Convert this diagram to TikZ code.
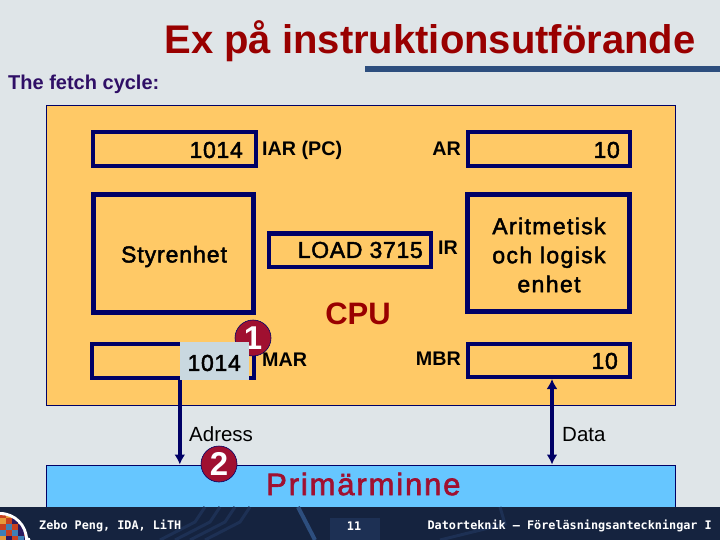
\documentclass[tikz,border=0pt]{standalone}
\usepackage{fontspec}
\setmainfont{Liberation Sans}
\newfontfamily\footfont{DejaVu Sans Mono}
\usetikzlibrary{arrows.meta}
\definecolor{slidebg}{HTML}{DFE5E8}
\definecolor{cpuorange}{HTML}{FFC966}
\definecolor{memblue}{HTML}{66C6FF}
\definecolor{navy}{HTML}{000066}
\definecolor{titlered}{HTML}{990000}
\definecolor{badgered}{HTML}{A01030}
\definecolor{footdark}{HTML}{15233F}
\definecolor{footline}{HTML}{1D3054}
\definecolor{barblue}{HTML}{2D4E7E}
\definecolor{lowgrey}{HTML}{C9D8E0}
\definecolor{fetchviolet}{HTML}{2F0F66}
\definecolor{logoa}{HTML}{C8401F}
\definecolor{logob}{HTML}{3F7FB5}
\definecolor{logoc}{HTML}{2A1A5E}
\definecolor{logod}{HTML}{E59A3A}
\tikzset{
    regbox/.style={draw=navy,line width=4pt,fill=cpuorange,inner sep=0pt},
    unitbox/.style={draw=navy,line width=5pt,fill=cpuorange,inner sep=0pt},
    regname/.style={font=\fontsize{19.7}{20}\selectfont\bfseries,text=black,inner sep=0pt},
    regval/.style={font=\fontsize{23}{23}\selectfont\addfontfeature{LetterSpace=3,FakeBold=2},text=black,inner sep=0pt},
    badge/.style={circle,draw=navy,line width=0.6pt,fill=badgered,text=white,inner sep=0pt,minimum size=36pt,font=\fontsize{33}{33}\selectfont\bfseries},
    bus/.style={draw=navy,line width=4pt},
    foottext/.style={font=\fontsize{11.8}{12}\footfont\bfseries,text=white,inner sep=0pt},
    bustip/.style={-{Latex[length=10pt,width=11pt]}}
}
\begin{document}
\begin{tikzpicture}[x=1pt,y=-1pt]
    \useasboundingbox (0,0) rectangle (720,540);
    \fill[slidebg] (0,0) rectangle (720,540);

    % title
    \node[font=\fontsize{40}{40}\selectfont\bfseries,text=titlered,inner sep=0pt] (title) at (430,41) {Ex på instruktionsutförande};
    \fill[barblue] (365,66) rectangle (720,72);
    \node[font=\fontsize{20}{20}\selectfont\bfseries,text=fetchviolet,anchor=west,inner sep=0pt] (fetch) at (8,84) {The fetch cycle:};

    % big blocks
    \node[draw=navy,line width=1pt,fill=cpuorange,minimum width=629pt,minimum height=300pt,inner sep=0pt] (cpu) at (361,255.5) {};
    \node[draw=navy,line width=1pt,fill=memblue,minimum width=629pt,minimum height=60pt,inner sep=0pt] (mem) at (361,495) {};

    % footer
    \fill[footdark] (0,507) rectangle (720,540);
    \foreach \x in {205,220,235,250}{
        \draw[footline,line width=3pt] (\x-45,540) -- (\x-10,522) -- (\x,507);
    }
    \fill[footline] (330,518) rectangle (380,540);
    \draw[barblue,line width=4pt] (298,507) -- (315,540);
    \draw[footline,line width=3pt] (500,507) -- (505,524) -- (440,540);

    % logo
    \begin{scope}
        \clip (0,507) rectangle (40,540);
        \fill[white] (0,540) circle (28pt);
        \foreach \a in {0,15,...,90}{
            \fill[white] (\a:28) ++(0,540) circle (2.5pt);
        }
        \clip (0,540) circle (25pt);
        \foreach \x/\y/\c in {0/512/logoa,6/512/logod,12/512/logoc,0/518/logod,6/518/logoa,12/518/logoc,18/518/logod,
                0/524/logoa,6/524/logob,12/524/logoa,18/524/logoc,24/524/logod,
                0/530/logob,6/530/logoa,12/530/logob,18/530/logoc,24/530/logoa,
                0/536/logod,6/536/logoc,12/536/logoa,18/536/logob,24/536/logoc}{
            \fill[\c] (\x,\y) rectangle ++(6,6);
        }
    \end{scope}

    % registers
    \node[regbox,minimum width=163pt,minimum height=34pt] (iar) at (174,149) {};
    \node[regbox,minimum width=162pt,minimum height=34pt] (ar) at (549,149) {};
    \node[regbox,minimum width=162pt,minimum height=33pt] (ir) at (350,250) {};
    \node[regbox,minimum width=162pt,minimum height=34pt] (mar) at (173,361) {};
    \node[regbox,minimum width=162pt,minimum height=33pt] (mbr) at (549,360.5) {};
    \node[unitbox,minimum width=160pt,minimum height=117pt] (ctrl) at (173,253.5) {};
    \node[unitbox,minimum width=162pt,minimum height=117pt] (alu) at (548.5,253) {};

    \node[badge] (one) at (253,338) {1};
    \node[fill=lowgrey,minimum width=69pt,minimum height=38pt,inner sep=0pt] (marlow) at (214.5,361) {};

    % buses
    \draw[bus,bustip] (marlow.south west) -- (marlow.south west |- mem.north);
    \draw[bus,{Latex[length=10pt,width=11pt]}-{Latex[length=10pt,width=11pt]}] ([xshift=3pt]mbr.south) -- ([xshift=3pt]mbr.south |- mem.north);

    % texts
    \node[regval,anchor=east] (iarval) at (243,150) {1014};
    \node[regval,anchor=east] (arval) at (620,150) {10};
    \node[regval,anchor=east] (irval) at (423,250) {LOAD 3715};
    \node[regval,anchor=east] (marval) at (241,363) {1014};
    \node[regval,anchor=east] (mbrval) at (618,361) {10};
    \node[regname,anchor=west] (iarname) at (262,150) {IAR (PC)};
    \node[regname,anchor=east] (arname) at (461,149) {AR};
    \node[regname,anchor=east] (irname) at (458,248) {IR};
    \node[regname,anchor=west] (marname) at (262,360) {MAR};
    \node[regname,anchor=east] (mbrname) at (461,359) {MBR};
    \node[font=\fontsize{23}{23}\selectfont\addfontfeature{LetterSpace=4,FakeBold=2},inner sep=0pt] (ctrlname) at (174,256.5) {Styrenhet};
    \node[align=center,inner sep=0pt,font=\fontsize{23}{29}\selectfont\addfontfeature{LetterSpace=6,FakeBold=2}] (aluname) at (549,255) {Aritmetisk\\och logisk\\enhet};
    \node[font=\fontsize{31}{31}\selectfont\bfseries,text=titlered,inner sep=0pt] (cpuname) at (358,314) {CPU};
    \node[font=\fontsize{20.5}{21}\selectfont,inner sep=0pt,anchor=west] (adress) at (189,434) {Adress};
    \node[font=\fontsize{20.5}{21}\selectfont,inner sep=0pt,anchor=west] (data) at (562,435) {Data};
    \node[font=\fontsize{31}{31}\selectfont\addfontfeature{LetterSpace=6,FakeBold=2},text=badgered,inner sep=0pt,anchor=west] (memname) at (266,484) {Primärminne};

    \node[badge] (two) at (219,464) {2};

    % footer texts
    \node[foottext,anchor=west] (author) at (39,526) {Zebo Peng, IDA, LiTH};
    \node[foottext] (page) at (354,526) {11};
    \node[foottext,anchor=east] (course) at (712,526) {Datorteknik — Föreläsningsanteckningar I};
\end{tikzpicture}
\end{document}
